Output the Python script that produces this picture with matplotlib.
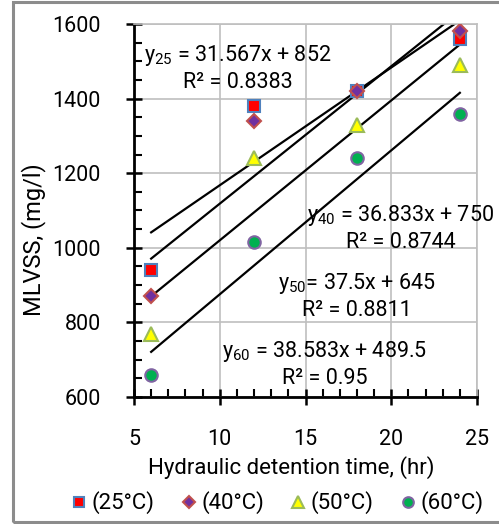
import numpy as np
import matplotlib
matplotlib.use("Agg")
import matplotlib.pyplot as plt
from matplotlib.patches import Rectangle
from matplotlib.ticker import MultipleLocator

plt.rcParams["font.family"] = ["Roboto", "DejaVu Sans"]
plt.rcParams["mathtext.fontset"] = "custom"
plt.rcParams["mathtext.rm"] = "Roboto"

# data
hrt = [6, 12, 18, 24]
mlvss_25 = [940, 1380, 1420, 1560]
mlvss_40 = [870, 1340, 1420, 1580]
mlvss_50 = [770, 1240, 1330, 1490]
mlvss_60 = [660, 1015, 1240, 1360]

# reported trend lines (slope, intercept, r2)
fit_25 = (31.567, 852, 0.8383)
fit_40 = (36.833, 750, 0.8744)
fit_50 = (37.5, 645, 0.8811)
fit_60 = (38.583, 489.5, 0.95)

labels = ["(25°C)", "(40°C)", "(50°C)", "(60°C)"]

W, H = 499, 524
fig = plt.figure(figsize=(W / 100, H / 100), dpi=100)
ax = fig.add_axes([134 / W, 1 - 397 / H, (477 - 134) / W, (397 - 24) / H])

grid_c = "#BFBFBF"
ax.grid(True, color=grid_c, lw=1.2, zorder=0)
ax.set_axisbelow(True)

xl = np.array([hrt[0], hrt[-1]])
for m, b, _ in (fit_25, fit_40, fit_50, fit_60):
    ax.plot(xl, m * xl + b, color="black", lw=1.6, zorder=2)

sty = dict(ls="none", zorder=3)
ax.plot(hrt, mlvss_25, marker="s", ms=8, mfc="#FF0000", mec="#4F81BD", mew=1.5, label=labels[0], **sty)
ax.plot(hrt, mlvss_40, marker="D", ms=7.5, mfc="#7030A0", mec="#C0504D", mew=1.5, label=labels[1], **sty)
ax.plot(hrt, mlvss_50, marker="^", ms=9.5, mfc="#FFFF00", mec="#9BBB59", mew=1.5, label=labels[2], **sty)
ax.plot(hrt, mlvss_60, marker="o", ms=9, mfc="#00B050", mec="#8064A2", mew=1.5, label=labels[3], **sty)

ax.set_xlim(5, 25)
ax.set_ylim(600, 1600)
ax.xaxis.set_major_locator(MultipleLocator(5))
ax.xaxis.set_minor_locator(MultipleLocator(1))
ax.yaxis.set_major_locator(MultipleLocator(200))
ax.yaxis.set_minor_locator(MultipleLocator(50))
ax.tick_params(which="major", direction="inout", length=12, width=1.8, labelsize=15.5)
ax.tick_params(axis="y", which="major", pad=18)
ax.tick_params(axis="x", which="major", pad=17)
ax.tick_params(which="minor", direction="in", length=6, width=1.5)
for s in ("left", "bottom"):
    ax.spines[s].set_linewidth(2)
for s in ("top", "right"):
    ax.spines[s].set_color(grid_c)
    ax.spines[s].set_linewidth(1.2)

# trend line equations
def eq(sub, fit, x, y, sep=" "):
    m, b, r2 = fit
    fig.text(x, y, f"y$\\mathregular{{_{{{sub}}}}}$" + sep + f"= {m:g}x + {b:g}",
             ha="center", va="center", fontsize=15.5)
    fig.text(x, y - 27 / H, f"R² = {r2:g}", ha="center", va="center", fontsize=15.5)

eq("25", fit_25, 238 / W, 1 - 56 / H)
eq("40", fit_40, 401 / W, 1 - 216 / H)
eq("50", fit_50, 357 / W, 1 - 284 / H, sep="")
eq("60", fit_60, 325 / W, 1 - 352 / H)

fig.text(291 / W, 1 - 468 / H, "Hydraulic detention time, (hr)", ha="center", va="center", fontsize=16)
fig.text(34 / W, 1 - 240 / H, "MLVSS, (mg/l)", ha="center", va="center", rotation=90, fontsize=17)

fig.legend(loc="center", bbox_to_anchor=(278 / W, 1 - 503 / H), ncol=4, frameon=False,
           fontsize=16, handlelength=0.6, handletextpad=0.25, columnspacing=1.25, markerscale=0.85)

fig.patches.append(Rectangle((13 / W, 2 / H), 1, 1 - 4 / H, transform=fig.transFigure,
                             fill=False, edgecolor="#8C8C8C", lw=2.2))

fig.savefig("out.png", dpi=100)
